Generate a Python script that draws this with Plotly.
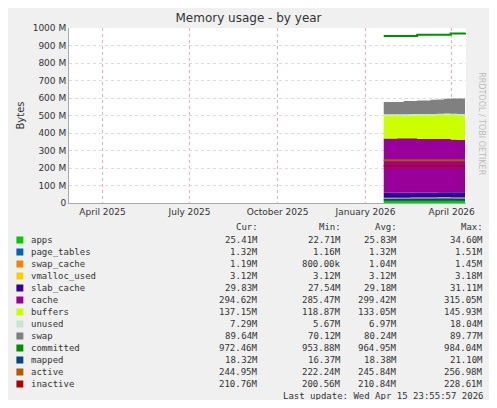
import plotly.graph_objects as go

dates = ["2026-01-20","2026-01-27","2026-02-03","2026-02-10","2026-02-17","2026-02-24",
         "2026-03-03","2026-03-10","2026-03-17","2026-03-24","2026-03-31","2026-04-07","2026-04-15"]
apps        = [24,24,25,25,26,26,26,26,27,27,26,26,25.4]
page_tables = [1.3]*13
swap_cache  = [1.1]*13
vmalloc     = [3.1]*13
slab_cache  = [29,29,29,29,29,29,29,29,29,29,30,30,29.8]
cache       = [310,310,310,310,310,305,305,305,305,305,302,300,294.6]
buffers     = [131,131,131,131,131,136,136,136,136,138,140,140,137]
unused      = [7]*13
swap        = [70,70,70,75,75,77,77,82,82,84,86,88,89.6]
committed   = [955,955,955,955,955,962,962,962,962,962,968,968,972.5]
mapped      = [18.3]*13
active      = [245]*13
inactive    = [211]*13

names = ["apps","page_tables","swap_cache","vmalloc_used","slab_cache","cache","buffers","unused","swap","committed","mapped","active","inactive"]
colors = ["#00cc00","#0066b3","#ff8000","#ffcc00","#330099","#990099","#ccff00","#c8e6c8","#808080","#008f00","#00487d","#b35a00","#b30000"]
cur = ["25.41M","1.32M","1.19M","3.12M","29.83M","294.62M","137.15M","7.29M","89.64M","972.46M","18.32M","244.95M","210.76M"]
mn  = ["22.71M","1.16M","800.00k","3.12M","27.54M","285.47M","118.87M","5.67M","70.12M","953.88M","16.37M","222.24M","200.56M"]
avg = ["25.83M","1.32M","1.04M","3.12M","29.18M","299.42M","133.05M","6.97M","80.24M","964.95M","18.38M","245.84M","210.84M"]
mx  = ["34.60M","1.51M","1.45M","3.18M","31.11M","315.05M","145.93M","18.04M","89.77M","984.04M","21.10M","256.98M","228.61M"]

fig = go.Figure()
stack = [apps,page_tables,swap_cache,vmalloc,slab_cache,cache,buffers,unused,swap]
for i, s in enumerate(stack):
    fig.add_trace(go.Scatter(x=dates, y=s, stackgroup="a", mode="none", fillcolor=colors[i],
                             line=dict(shape="hv"), showlegend=False))
for i, s in zip(range(9,13),[committed,mapped,active,inactive]):
    fig.add_trace(go.Scatter(x=dates, y=s, mode="lines", line=dict(color=colors[i], width=2, shape="hv"),
                             showlegend=False))

mono = dict(family="DejaVu Sans Mono", size=9, color="#333")
ann = []
def T(x, y, t, anchor="left", **k):
    ann.append(dict(xref="paper", yref="paper", x=x, y=y, text=t, showarrow=False,
                    xanchor=anchor, yanchor="middle", font=k.get("font", mono)))
L, R, TOP, BOT = 66, 466, 28, 203
px = lambda p: (p - L) / (R - L)
py = lambda p: (BOT - p) / (BOT - TOP)
T(px(258), py(227), "Cur:", "right"); T(px(342), py(227), "Min:", "right")
T(px(398), py(227), "Avg:", "right"); T(px(485), py(227), "Max:", "right")
shapes = []
for i, n in enumerate(names):
    y = 240 + i * 12.0
    T(px(26), py(y), n)
    T(px(258), py(y), cur[i], "right"); T(px(342), py(y), mn[i], "right")
    T(px(398), py(y), avg[i], "right"); T(px(485), py(y), mx[i], "right")
    shapes.append(dict(type="rect", xref="paper", yref="paper", x0=px(13), x1=px(20),
                       y0=py(y + 3.5), y1=py(y - 3.5), fillcolor=colors[i], line=dict(width=0)))
T(px(485), py(396), "Last update: Wed Apr 15 23:55:57 2026", "right")
ann.append(dict(xref="paper", yref="paper", x=px(488), y=py(70), text="RRDTOOL / TOBI OETIKER",
                showarrow=False, textangle=90, font=dict(family="DejaVu Sans", size=8, color="#bbb")))

tv = list(range(0, 1001, 100))
fig.update_layout(
    width=481, height=392, margin=dict(l=58, r=23, t=20, b=197),
    paper_bgcolor="#f0f0f0", plot_bgcolor="#ffffff",
    title=dict(text="Memory usage - by year", x=0.5, y=0.985, yanchor="top",
               font=dict(family="DejaVu Sans", size=12, color="#333")),
    xaxis=dict(range=["2025-02-25", "2026-04-16"], tickvals=["2025-04-01","2025-07-01","2025-10-01","2026-01-01","2026-04-01"],
               ticktext=["April 2025","July 2025","October 2025","January 2026","April 2026"],
               showgrid=True, gridcolor="#e8b0b0", griddash="dot", tickfont=dict(family="DejaVu Sans", size=9, color="#333"),
               showline=True, linecolor="#aaa", zeroline=False),
    yaxis=dict(range=[0, 1000], tickvals=tv, ticktext=["0"] + [f"{v} M" for v in tv[1:]],
               showgrid=True, gridcolor="#ddd", griddash="dot", tickfont=dict(family="DejaVu Sans", size=9, color="#333"),
               title=dict(text="Bytes", font=dict(family="DejaVu Sans", size=10, color="#333"), standoff=6),
               showline=True, linecolor="#aaa", zeroline=False),
    annotations=ann, shapes=shapes,
)
fig.write_html("out.html")
